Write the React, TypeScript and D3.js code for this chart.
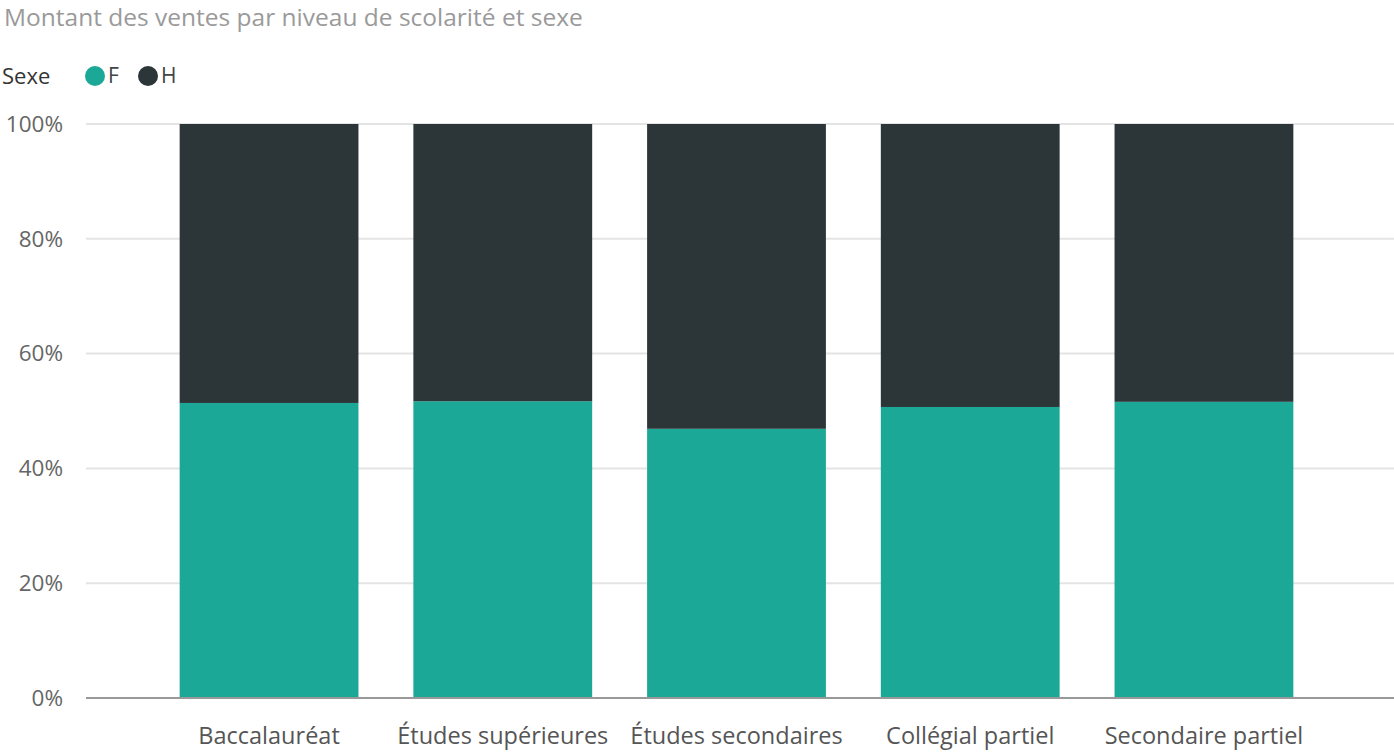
import React, { useEffect, useRef } from 'react';
import * as d3 from 'd3';

// niveaux de scolarité
const categories = ['Baccalauréat', 'Études supérieures', 'Études secondaires', 'Collégial partiel', 'Secondaire partiel'];
// part des ventes (%) par sexe
const femmes = [51.4, 51.7, 46.9, 50.7, 51.6];
const hommes = [48.6, 48.3, 53.1, 49.3, 48.4];
const series = ['F', 'H'];
const couleurs = ['#1CA897', '#2C3538'];
const yTicks = [0, 20, 40, 60, 80, 100];

const W = 1394;
const H = 752;
const FONT = '"Open Sans", "Noto Sans", sans-serif';

const App: React.FC = () => {
  const svgRef = useRef<SVGSVGElement>(null);

  useEffect(() => {
    document.body.style.margin = '0';
    if (!svgRef.current) return;

    const svg = d3.select(svgRef.current);
    svg.selectAll('*').remove();

    const x = d3.scaleBand<string>()
      .domain(categories)
      .range([88.5, 1384.5])
      .paddingInner(0.235)
      .paddingOuter(0.39);

    const y = d3.scaleLinear().domain([0, 100]).range([698, 124]);

    // titre
    svg.append('text')
      .attr('x', 4)
      .attr('y', 26)
      .attr('font-family', FONT)
      .attr('font-size', 24.5)
      .attr('fill', '#9a9a9a')
      .text('Montant des ventes par niveau de scolarité et sexe');

    // légende
    const legend = svg.append('g').attr('transform', 'translate(0, 76)');
    legend.append('text')
      .attr('x', 2)
      .attr('dy', '0.35em')
      .attr('font-family', FONT)
      .attr('font-size', 22)
      .attr('fill', '#333')
      .text('Sexe');
    const legendX = [95, 148];
    series.forEach((s, i) => {
      legend.append('circle')
        .attr('cx', legendX[i])
        .attr('r', 10)
        .attr('fill', couleurs[i]);
      legend.append('text')
        .attr('x', legendX[i] + 13)
        .attr('dy', '0.35em')
        .attr('font-family', FONT)
        .attr('font-size', 21)
        .attr('fill', '#444')
        .text(s);
    });

    // grille
    svg.append('g')
      .selectAll('line')
      .data(yTicks.filter(t => t > 0))
      .enter()
      .append('line')
      .attr('x1', 86)
      .attr('x2', W)
      .attr('y1', d => y(d))
      .attr('y2', d => y(d))
      .attr('stroke', '#e4e4e4')
      .attr('stroke-width', 2);

    // étiquettes axe y
    svg.append('g')
      .selectAll('text')
      .data(yTicks)
      .enter()
      .append('text')
      .attr('x', 63)
      .attr('y', d => y(d))
      .attr('dy', '0.35em')
      .attr('text-anchor', 'end')
      .attr('font-family', FONT)
      .attr('font-size', 22.5)
      .attr('fill', '#666')
      .text(d => `${d}%`);

    // barres empilées
    const rows = categories.map((c, i) => ({ cat: c, F: femmes[i], H: hommes[i] }));
    const stack = d3.stack<{ cat: string; F: number; H: number }>().keys(series);
    const layers = stack(rows);

    svg.append('g')
      .selectAll('g')
      .data(layers)
      .enter()
      .append('g')
      .attr('fill', (_, i) => couleurs[i])
      .selectAll('rect')
      .data(d => d)
      .enter()
      .append('rect')
      .attr('x', d => x(d.data.cat)!)
      .attr('width', x.bandwidth())
      .attr('y', d => y(d[1]))
      .attr('height', d => y(d[0]) - y(d[1]));

    // ligne de base
    svg.append('line')
      .attr('x1', 86)
      .attr('x2', W)
      .attr('y1', y(0))
      .attr('y2', y(0))
      .attr('stroke', '#999')
      .attr('stroke-width', 2);

    // étiquettes axe x
    svg.append('g')
      .selectAll('text')
      .data(categories)
      .enter()
      .append('text')
      .attr('x', d => x(d)! + x.bandwidth() / 2)
      .attr('y', 744)
      .attr('text-anchor', 'middle')
      .attr('font-family', FONT)
      .attr('font-size', 23.5)
      .attr('fill', '#555')
      .text(d => d);
  }, []);

  return <svg ref={svgRef} width={W} height={H} style={{ display: 'block', background: '#fff' }} />;
};

export default App;
